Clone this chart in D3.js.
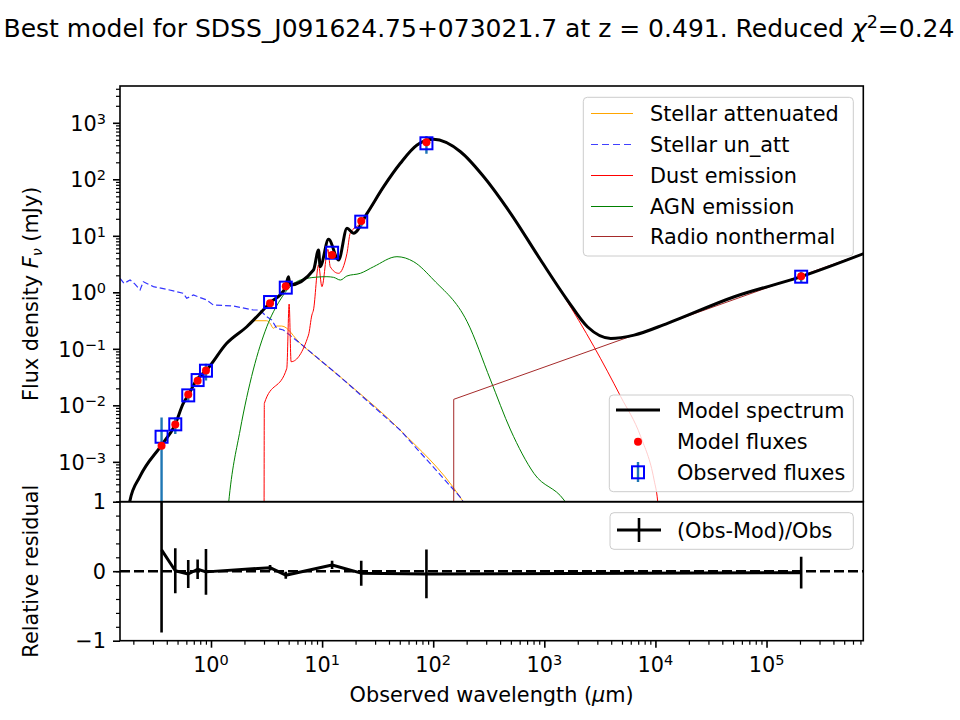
<!DOCTYPE html>
<html>
<head>
<meta charset="utf-8">
<script src="https://d3js.org/d3.v7.min.js"></script>
<style>
  body { margin:0; background:#fff; }
  text { font-family: "DejaVu Sans", sans-serif; fill:#000; }
</style>
</head>
<body>
<script>
// ---- data (wavelength in micron, flux in mJy) ----
var specWave = [0.179, 0.186, 0.229, 0.359, 0.473, 0.563, 0.624, 0.743, 0.914, 1.386, 2.10, 3.41, 4.65, 4.98, 5.15, 8.36, 9.29, 9.61, 11.43, 14.06, 16.75, 19.2, 25.4, 35.8, 50.6, 71.6, 101, 176, 285, 497, 927, 1611, 2443, 3963, 6427, 12850, 51300, 204700, 762000];
var specFlux = [1.29e-4, 2.02e-4, 5.45e-4, 1.98e-3, 4.48e-3, 0.0108, 0.0152, 0.0281, 0.0422, 0.125, 0.246, 0.655, 1.18, 1.89, 1.35, 2.48, 5.61, 2.84, 8.67, 3.73, 13.6, 11.1, 25.0, 74.0, 192, 405, 510, 308, 111, 25.0, 3.73, 0.731, 0.246, 0.153, 0.175, 0.283, 0.836, 1.89, 4.90];

var attWave = [0.179, 0.186, 0.229, 0.359, 0.473, 0.563, 0.624, 0.743, 0.914, 1.386, 2.10, 2.32, 3.17, 3.40, 3.64, 3.90, 4.33, 6.35, 14.5, 50.3, 174, 214];
var attFlux = [1.29e-4, 2.02e-4, 5.45e-4, 1.98e-3, 4.48e-3, 0.0108, 0.0152, 0.0281, 0.0422, 0.125, 0.246, 0.314, 0.314, 0.283, 0.231, 0.253, 0.253, 0.125, 0.0321, 3.66e-3, 2.41e-4, 1.29e-4];

var unattWave = [0.152, 0.165, 0.187, 0.207, 0.230, 0.246, 0.303, 0.399, 0.563, 0.604, 0.694, 0.915, 1.05, 1.59, 2.40, 2.76, 3.17, 3.52, 3.90, 4.48, 6.35, 14.5, 50.3, 174, 214];
var unattFlux = [1.77, 1.44, 1.65, 1.40, 1.10, 1.54, 1.26, 1.13, 0.96, 0.783, 0.896, 0.731, 0.596, 0.573, 0.486, 0.486, 0.370, 0.324, 0.231, 0.215, 0.125, 0.0321, 3.66e-3, 2.41e-4, 1.29e-4];

var dustWave = [3.0, 3.02, 4.81, 5.05, 5.26, 7.54, 8.09, 8.36, 9.29, 9.96, 11.28, 11.83, 14.06, 16.75, 17.9, 22.1, 25.4, 35.8, 50.6, 71.6, 101, 176, 285, 497, 927, 1503, 2799, 4877, 7380, 9730, 10450, 10800];
var dustFlux = [1e-5, 0.0108, 0.0452, 0.621, 0.0591, 0.175, 0.396, 0.486, 3.04, 1.26, 5.77, 2.84, 2.17, 4.90, 11.07, 16.6, 24.0, 71, 186, 397, 500, 302, 110, 24.8, 3.63, 0.85, 0.109, 0.0142, 2.78e-3, 4.76e-4, 2.11e-4, 1e-4];

var agnWave = [1.42, 1.46, 1.83, 2.40, 3.18, 4.19, 5.15, 7.29, 11.05, 12.7, 14.6, 16.7, 22.1, 29.1, 47.2, 66.7, 101, 202, 328, 497, 806, 1503, 1726];
var agnFlux = [1.41e-4, 2.41e-4, 3.66e-3, 0.0422, 0.246, 0.731, 1.26, 1.77, 1.89, 1.84, 1.65, 1.94, 2.17, 2.84, 4.27, 3.48, 1.65, 0.302, 0.0281, 3.66e-3, 6.25e-4, 2.11e-4, 1.4e-4];

var radioWave = [153, 153, 7.43e5];
var radioFlux = [1e-5, 0.01277, 4.86];

var bandWave = [0.359, 0.477, 0.624, 0.758, 0.901, 3.40, 4.71, 12.3, 22.5, 86.9, 2.05e5];
var obsFlux = [0.00278, 0.00461, 0.0150, 0.0280, 0.0410, 0.673, 1.21, 5.02, 17.8, 434, 1.89];
var obsErr = [0.0033, 0.0015, 0.0030, 0.0039, 0.0135, 0.027, 0.06, 0.30, 3.2, 152, 0.43];
var modFlux = [0.00193, 0.00458, 0.0156, 0.0272, 0.0414, 0.639, 1.28, 4.57, 18.3, 451, 1.93];

var xTickExp = [0, 1, 2, 3, 4, 5];
var yTickExp = [-3, -2, -1, 0, 1, 2, 3];
var rTicks = [-1, 0, 1];

// ---- layout ----
var W = 960, H = 720;
var m = {left: 120, right: 863.3, top: 86, mid: 501.7, bottom: 640.7};
var fs = "20.8px";

var svg = d3.select("body").append("svg").attr("width", W).attr("height", H);

var x = d3.scaleLog().domain([0.1517, 7.43e5]).range([m.left, m.right]);
var y = d3.scaleLog().domain([1.97e-4, 4.48e3]).range([m.mid, m.top]);
var yr = d3.scaleLinear().domain([-1, 1]).range([m.bottom, m.mid]);

var defs = svg.append("defs");
defs.append("clipPath").attr("id", "clipMain").append("rect")
    .attr("x", m.left).attr("y", m.top).attr("width", m.right - m.left).attr("height", m.mid - m.top);
defs.append("clipPath").attr("id", "clipRes").append("rect")
    .attr("x", m.left).attr("y", m.mid).attr("width", m.right - m.left).attr("height", m.bottom - m.mid);

function zip(a, b) { return a.map((v, i) => [v, b[i]]); }

var lineLog = d3.line().x(d => x(d[0])).y(d => y(d[1]));
var lineSmooth = d3.line().x(d => x(d[0])).y(d => y(d[1])).curve(d3.curveMonotoneX);

var main = svg.append("g").attr("clip-path", "url(#clipMain)");

main.append("path").attr("d", lineSmooth(zip(attWave, attFlux)))
    .attr("fill", "none").attr("stroke", "orange").attr("stroke-width", 1);
main.append("path").attr("d", lineLog(zip(unattWave, unattFlux)))
    .attr("fill", "none").attr("stroke", "#0000ff").attr("stroke-opacity", 0.8)
    .attr("stroke-width", 1.2).attr("stroke-dasharray", "6,3");
main.append("path").attr("d", lineSmooth(zip(dustWave, dustFlux)))
    .attr("fill", "none").attr("stroke", "red").attr("stroke-width", 1);
main.append("path").attr("d", lineSmooth(zip(agnWave, agnFlux)))
    .attr("fill", "none").attr("stroke", "green").attr("stroke-width", 1);
main.append("path").attr("d", lineLog(zip(radioWave, radioFlux)))
    .attr("fill", "none").attr("stroke", "brown").attr("stroke-width", 1);
main.append("path").attr("d", lineSmooth(zip(specWave, specFlux)))
    .attr("fill", "none").attr("stroke", "black").attr("stroke-width", 3)
    .attr("stroke-linejoin", "round");

// observed fluxes with error bars
var obs = bandWave.map((w, i) => ({w: w, f: obsFlux[i], e: obsErr[i], mod: modFlux[i]}));
var yMin = y.domain()[0];
main.selectAll(".err").data(obs).enter().append("line")
    .attr("x1", d => x(d.w)).attr("x2", d => x(d.w))
    .attr("y1", d => y(Math.max(d.f - d.e, yMin / 10)))
    .attr("y2", d => y(d.f + d.e))
    .attr("stroke", "#1f77b4").attr("stroke-width", 2.4);
main.selectAll(".obs").data(obs).enter().append("rect")
    .attr("x", d => x(d.w) - 6).attr("y", d => y(d.f) - 6)
    .attr("width", 12).attr("height", 12)
    .attr("fill", "none").attr("stroke", "#0000ff").attr("stroke-width", 2);
main.selectAll(".mod").data(obs).enter().append("circle")
    .attr("cx", d => x(d.w)).attr("cy", d => y(d.mod)).attr("r", 4)
    .attr("fill", "red");

// residual panel
var res = svg.append("g").attr("clip-path", "url(#clipRes)");
res.append("line").attr("x1", m.left).attr("x2", m.right)
    .attr("y1", yr(0)).attr("y2", yr(0))
    .attr("stroke", "black").attr("stroke-width", 2.6).attr("stroke-dasharray", "10,4");
var resPts = obs.map(d => ({w: d.w, r: (d.f - d.mod) / d.f, e: d.e / d.f}));
res.append("path")
    .attr("d", d3.line().x(d => x(d.w)).y(d => yr(d.r))(resPts))
    .attr("fill", "none").attr("stroke", "black").attr("stroke-width", 3)
    .attr("stroke-linejoin", "round");
res.selectAll(".rerr").data(resPts).enter().append("line")
    .attr("x1", d => x(d.w)).attr("x2", d => x(d.w))
    .attr("y1", d => yr(d.r - d.e)).attr("y2", d => yr(d.r + d.e))
    .attr("stroke", "black").attr("stroke-width", 2.6);

// ---- axes ----
function minorLog(lo, hi) {
  var out = [];
  for (var e = Math.floor(Math.log10(lo)); e <= Math.ceil(Math.log10(hi)); e++)
    for (var k = 2; k <= 9; k++) {
      var v = k * Math.pow(10, e);
      if (v >= lo && v <= hi) out.push(v);
    }
  return out;
}

function tickGroup(axis, tx, ty, vals, size, width) {
  var g = svg.append("g").attr("transform", "translate(" + tx + "," + ty + ")")
      .call(axis.tickValues(vals).tickSize(size).tickFormat(""));
  g.select(".domain").remove();
  g.selectAll(".tick line").attr("stroke-width", width);
  return g;
}

tickGroup(d3.axisLeft(y), m.left, 0, yTickExp.map(e => Math.pow(10, e)), 7, 1.6);
tickGroup(d3.axisLeft(y), m.left, 0, minorLog(y.domain()[0], y.domain()[1]), 4, 1.2);
tickGroup(d3.axisLeft(yr), m.left, 0, rTicks, 7, 1.6);
tickGroup(d3.axisLeft(yr), m.left, 0, d3.range(-0.8, 0.9, 0.2), 4, 1.2);
tickGroup(d3.axisBottom(x), 0, m.bottom, xTickExp.map(e => Math.pow(10, e)), 7, 1.6);
tickGroup(d3.axisBottom(x), 0, m.bottom, minorLog(x.domain()[0], x.domain()[1]), 4, 1.2);

function powLabel(tx, ty, e, anchor) {
  var t = svg.append("text").attr("x", tx).attr("y", ty)
      .attr("text-anchor", anchor).style("font-size", fs);
  t.append("tspan").text("10");
  t.append("tspan").attr("dy", -7).style("font-size", "14.5px")
      .text(e < 0 ? "\u2212" + (-e) : String(e));
}
yTickExp.forEach(e => powLabel(106, y(Math.pow(10, e)) + 8, e, "end"));
xTickExp.forEach(e => powLabel(x(Math.pow(10, e)), 672, e, "middle"));
rTicks.forEach(v => {
  svg.append("text").attr("x", 106).attr("y", yr(v) + 7.5)
      .attr("text-anchor", "end").style("font-size", fs)
      .text(v < 0 ? "\u2212" + (-v) : String(v));
});

// frames
[[m.top, m.mid], [m.mid, m.bottom]].forEach(p => {
  svg.append("rect").attr("x", m.left).attr("y", p[0])
      .attr("width", m.right - m.left).attr("height", p[1] - p[0])
      .attr("fill", "none").attr("stroke", "black").attr("stroke-width", 1.6);
});

// ---- labels ----
var title = svg.append("text").attr("x", 479).attr("y", 37)
    .attr("text-anchor", "middle").style("font-size", "25px");
title.append("tspan").text("Best model for SDSS_J091624.75+073021.7 at z = 0.491. Reduced ");
title.append("tspan").style("font-style", "italic").text("\u03c7");
title.append("tspan").attr("dy", -9).style("font-size", "17.5px").text("2");
title.append("tspan").attr("dy", 9).text("=0.24");

var xl = svg.append("text").attr("x", (m.left + m.right) / 2).attr("y", 702)
    .attr("text-anchor", "middle").style("font-size", fs);
xl.append("tspan").text("Observed wavelength (");
xl.append("tspan").style("font-style", "italic").text("\u00b5");
xl.append("tspan").text("m)");

var yl = svg.append("text").attr("transform", "translate(38," + (m.top + m.mid) / 2 + ") rotate(-90)")
    .attr("text-anchor", "middle").style("font-size", fs);
yl.append("tspan").text("Flux density ");
yl.append("tspan").style("font-style", "italic").text("F");
yl.append("tspan").attr("dy", 4).style("font-style", "italic").style("font-size", "14.5px").text("\u03bd");
yl.append("tspan").attr("dy", -4).text(" (mJy)");

svg.append("text").attr("transform", "translate(38," + (m.mid + m.bottom) / 2 + ") rotate(-90)")
    .attr("text-anchor", "middle").style("font-size", fs).text("Relative residual");

// ---- legends ----
function legendBox(x0, y0, x1, y1) {
  var g = svg.append("g");
  g.append("rect").attr("x", x0).attr("y", y0).attr("width", x1 - x0).attr("height", y1 - y0)
      .attr("rx", 4).attr("fill", "white").attr("fill-opacity", 0.8)
      .attr("stroke", "#cccccc").attr("stroke-width", 1);
  return g;
}

var compNames = ["Stellar attenuated", "Stellar un_att", "Dust emission", "AGN emission", "Radio nonthermal"];
var compColors = ["orange", "#0000ff", "red", "green", "brown"];
var compRows = [113.5, 144.5, 175.5, 206.5, 236.5];
var lg1 = legendBox(583.3, 97.3, 853.3, 256);
compNames.forEach((n, i) => {
  lg1.append("line").attr("x1", 591).attr("x2", 633).attr("y1", compRows[i]).attr("y2", compRows[i])
      .attr("stroke", compColors[i]).attr("stroke-width", i === 1 ? 1.2 : 1)
      .attr("stroke-opacity", i === 1 ? 0.75 : 1)
      .attr("stroke-dasharray", i === 1 ? "7,4" : null);
  lg1.append("text").attr("x", 650).attr("y", compRows[i] + 7.5).style("font-size", fs).text(n);
});

var lg2 = legendBox(609.3, 395, 853.3, 491.7);
lg2.append("line").attr("x1", 616).attr("x2", 660).attr("y1", 410).attr("y2", 410)
    .attr("stroke", "black").attr("stroke-width", 3);
lg2.append("circle").attr("cx", 638).attr("cy", 441.7).attr("r", 4).attr("fill", "red");
lg2.append("line").attr("x1", 638).attr("x2", 638).attr("y1", 462).attr("y2", 482)
    .attr("stroke", "#1f77b4").attr("stroke-width", 2.4);
lg2.append("rect").attr("x", 632).attr("y", 466.3).attr("width", 12).attr("height", 12)
    .attr("fill", "none").attr("stroke", "#0000ff").attr("stroke-width", 2);
["Model spectrum", "Model fluxes", "Observed fluxes"].forEach((n, i) => {
  lg2.append("text").attr("x", 677).attr("y", [410, 441.7, 472.3][i] + 7.5)
      .style("font-size", fs).text(n);
});

var lg3 = legendBox(610, 512.7, 853.3, 549.3);
lg3.append("line").attr("x1", 617).attr("x2", 661).attr("y1", 530).attr("y2", 530)
    .attr("stroke", "black").attr("stroke-width", 3);
lg3.append("line").attr("x1", 639).attr("x2", 639).attr("y1", 518).attr("y2", 542)
    .attr("stroke", "black").attr("stroke-width", 2.6);
lg3.append("text").attr("x", 677).attr("y", 537.5).style("font-size", fs).text("(Obs-Mod)/Obs");
</script>
</body>
</html>
